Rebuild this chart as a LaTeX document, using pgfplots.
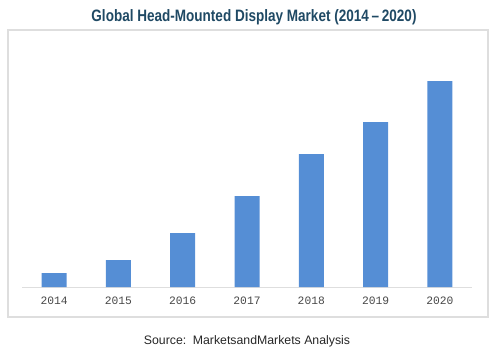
\documentclass[border=0pt]{standalone}
\usepackage{fontspec}
\setmainfont{Liberation Sans}
\newfontfamily\titlefont[FakeStretch=0.82]{Liberation Sans}
\newfontfamily\monofont{Liberation Mono}
\usepackage{pgfplots}
\pgfplotsset{compat=1.18}
\definecolor{barblue}{RGB}{85,142,213}
\definecolor{titleblue}{RGB}{31,73,100}
\definecolor{framegray}{RGB}{222,222,222}
\begin{document}
\begin{tikzpicture}[x=1pt,y=1pt]
\path[use as bounding box] (0,0) rectangle (494,357);
\draw[framegray,line width=1.5pt] (8,40) rectangle (488,327);
\node[font=\titlefont\bfseries\fontsize{16.5}{18}\selectfont,text=titleblue] at (254,340) {Global Head-Mounted Display Market (2014\,\textendash\,2020)};
\node[font=\fontsize{12.3}{14}\selectfont,text=black!85] at (247,16) {Source:\, MarketsandMarkets Analysis};
\begin{axis}[
  at={(22pt,70pt)}, anchor=south west,
  scale only axis, width=450pt, height=237pt,
  xmin=-0.5, xmax=6.5, ymin=0, ymax=237,
  axis x line*=bottom, axis y line=none,
  x axis line style={draw=framegray, line width=1pt, -},
  xtick=data, xticklabels={2014,2015,2016,2017,2018,2019,2020},
  major tick length=0pt,
  xticklabel style={font=\monofont\fontsize{11.3}{13}\selectfont, text=black!72, yshift=-6pt},
  ybar, bar width=25pt,
  clip=false,
]
\addplot[fill=barblue, draw=none] coordinates {(0,14) (1,27) (2,54) (3,91) (4,133) (5,165) (6,206)};
\end{axis}
\end{tikzpicture}
\end{document}
